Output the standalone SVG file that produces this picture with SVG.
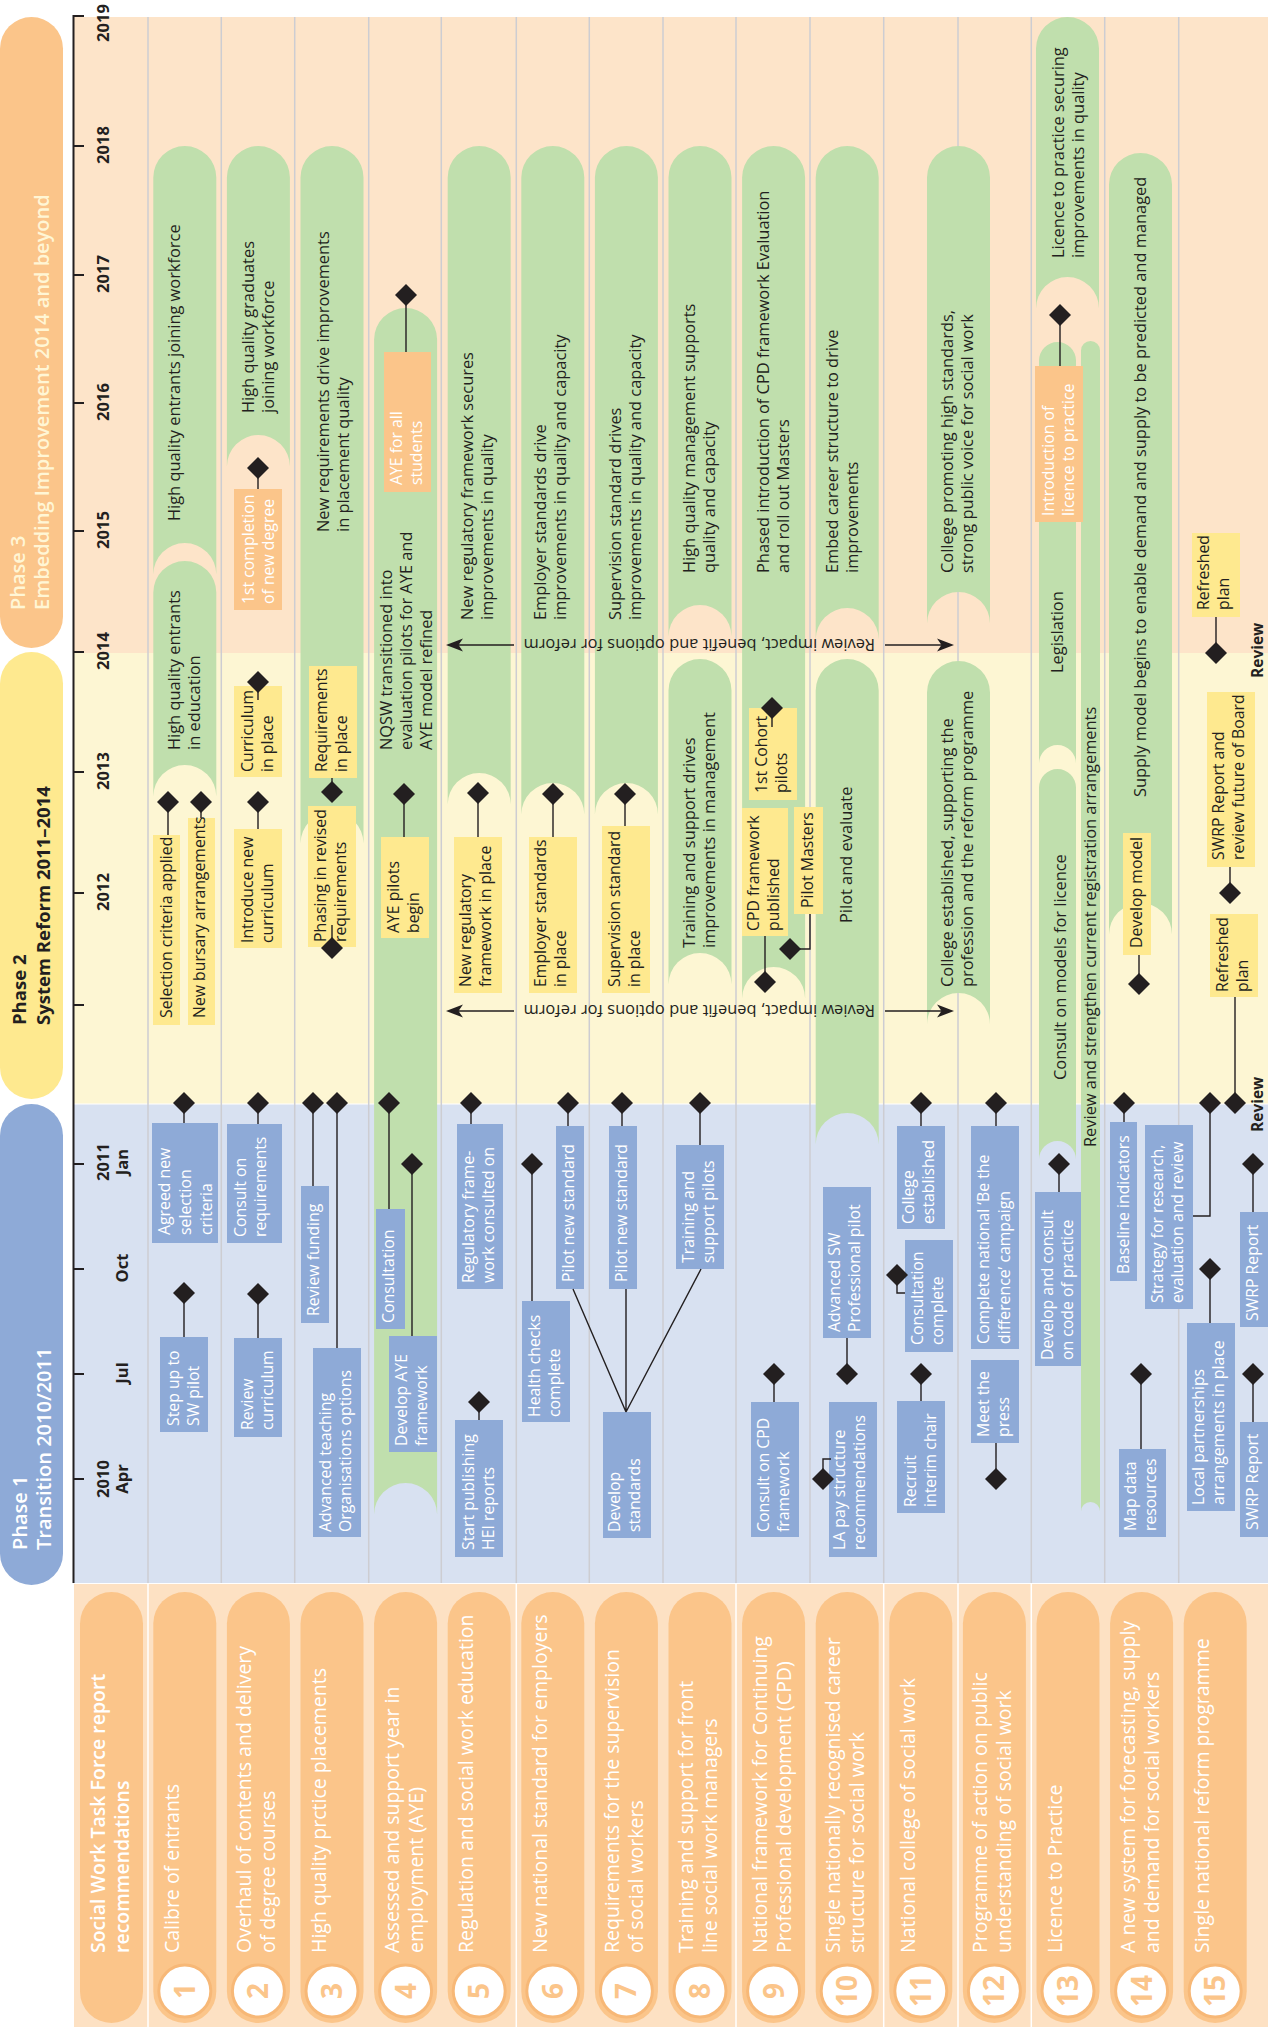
<svg xmlns="http://www.w3.org/2000/svg" width="1271" height="2029" viewBox="0 0 1271 2029">
<defs>
<style>
text{font-family:"Open Sans","Noto Sans","Liberation Sans",sans-serif}
.t{font-size:16.4px;fill:#231f20}
.s{font-size:15.8px;fill:#231f20}
.tw{font-size:15.8px;fill:#fff}
.b{font-size:19.5px;fill:#fff}
.yr{font-size:16.5px;font-weight:700;fill:#231f20;text-anchor:middle}
.ph{font-size:20px;font-weight:600}
.num{font-size:28px;font-weight:700;fill:#fbc58a;text-anchor:middle}
.rv{font-size:15.5px;font-weight:700;fill:#231f20}
.g{fill:#c0dfad}
.yb{fill:#fee98f}
.bb{fill:#8eaad7}
.ob{fill:#fbc58a}
.ln{stroke:#231f20;stroke-width:1.4;fill:none}
.sep{stroke:#cdcdd2;stroke-width:1.5;fill:none}
.ws{stroke:#fff;stroke-width:1.5;fill:none}
.nc{fill:#fff;stroke:#f7b877;stroke-width:3}
</style>
<path id="dm" d="M0,-11L11,0L0,11L-11,0Z"/>
<path id="ahl" d="M0,0L17,-6.5L12.5,0L17,6.5Z"/>
</defs>
<rect width="1271" height="2029" fill="#fff"/>
<g id="background">
<rect x="74" y="17" width="1194" height="636" fill="#fde4c9"/>
<rect x="74" y="653" width="1194" height="451" fill="#fdf6d3"/>
<rect x="74" y="1104" width="1194" height="479" fill="#d8e1f1"/>
<path d="M74,1104H1268" stroke="#fff" stroke-width="1"/>
<rect x="74" y="1584" width="1194" height="443" fill="#fde1c3"/>
<path class="sep" d="M148,17V1583M221.3,17V1583M294.7,17V1583M368.7,17V1583M441.3,17V1583M516.3,17V1583M589.3,17V1583M663,17V1583M736,17V1583M810,17V1583M883.7,17V1583M958,17V1583M1031.3,17V1583M1104.7,17V1583M1178.7,17V1583"/>
<path class="ws" d="M148,1584V2027M516.3,1584V2027M736,1584V2027M883.7,1584V2027M958,1584V2027M1031.3,1584V2027"/>
</g>
<g id="axis">
<path d="M84,16H73.5V1583" stroke="#231f20" stroke-width="2" fill="none"/>
<path d="M73.5,146H84M73.5,275H84M73.5,403H84M73.5,531H84M73.5,652H84M73.5,772H84M73.5,893H84M73.5,1005H84M73.5,1164H84M73.5,1269H84M73.5,1374H84M73.5,1479H84" stroke="#231f20" stroke-width="2"/>
<text class="yr" transform="translate(109,23) rotate(-90)">2019</text>
<text class="yr" transform="translate(109,145) rotate(-90)">2018</text>
<text class="yr" transform="translate(109,274) rotate(-90)">2017</text>
<text class="yr" transform="translate(109,402) rotate(-90)">2016</text>
<text class="yr" transform="translate(109,530) rotate(-90)">2015</text>
<text class="yr" transform="translate(109,651) rotate(-90)">2014</text>
<text class="yr" transform="translate(109,771) rotate(-90)">2013</text>
<text class="yr" transform="translate(109,892) rotate(-90)">2012</text>
<text class="yr" transform="translate(109,1162) rotate(-90)"><tspan x="0">2011</tspan><tspan x="0" y="19">Jan</tspan></text>
<text class="yr" transform="translate(128,1268) rotate(-90)">Oct</text>
<text class="yr" transform="translate(128,1373) rotate(-90)">Jul</text>
<text class="yr" transform="translate(109,1479) rotate(-90)"><tspan x="0">2010</tspan><tspan x="0" y="19">Apr</tspan></text>
</g>
<g id="phase3"><rect x="0" y="17" width="63" height="631" rx="31.5" class="ob"/><text class="ph" fill="#fff6d5" transform="translate(25,610) rotate(-90)"><tspan x="0">Phase 3</tspan><tspan x="0" y="24">Embedding Improvement 2014 and beyond</tspan></text></g>
<g id="phase2"><rect x="0" y="652" width="63" height="447" rx="31.5" class="yb"/><text font-size="18.5px" font-weight="700" fill="#231f20" transform="translate(26,1025) rotate(-90)"><tspan x="0">Phase 2</tspan><tspan x="0" y="24">System Reform 2011–2014</tspan></text></g>
<g id="phase1"><rect x="0" y="1104" width="63" height="481" rx="31.5" class="bb"/><text class="ph" fill="#fff" transform="translate(27,1550) rotate(-90)"><tspan x="0">Phase 1</tspan><tspan x="0" y="24">Transition 2010/2011</tspan></text></g>

<g id="outcome-1a"><path class="g" d="M153.3,177.5A31.5,31.5 0 0 1 216.3,177.5V574.5A31.5,31.5 0 0 0 153.3,574.5Z"/><text class="t" transform="translate(180,521) rotate(-90)">High quality entrants joining workforce</text></g>
<g id="outcome-1b"><path class="g" d="M153.3,592.5A31.5,31.5 0 0 1 216.3,592.5V796.5A31.5,31.5 0 0 0 153.3,796.5Z"/><text class="t" transform="translate(180,750) rotate(-90)"><tspan x="0">High quality entrants</tspan><tspan x="0" y="20">in education</tspan></text></g>
<g id="outcome-2a"><path class="g" d="M226.9,177.5A31.5,31.5 0 0 1 289.9,177.5V466.5A31.5,31.5 0 0 0 226.9,466.5Z"/><text class="t" transform="translate(254,413) rotate(-90)"><tspan x="0">High quality graduates</tspan><tspan x="0" y="20">joining workforce</tspan></text></g>
<g id="outcome-3a"><path class="g" d="M300.5,177.5A31.5,31.5 0 0 1 363.5,177.5V843.5A31.5,31.5 0 0 0 300.5,843.5Z"/><text class="t" transform="translate(329,532) rotate(-90)"><tspan x="0">New requirements drive improvements</tspan><tspan x="0" y="20">in placement quality</tspan></text></g>
<g id="outcome-4a"><path class="g" d="M374.1,339.5A31.5,31.5 0 0 1 437.1,339.5V1514.5A31.5,31.5 0 0 0 374.1,1514.5Z"/><text class="t" transform="translate(392,750) rotate(-90)"><tspan x="0">NQSW transitioned into</tspan><tspan x="0" y="20">evaluation pilots for AYE and</tspan><tspan x="0" y="40">AYE model refined</tspan></text></g>
<g id="outcome-5a"><path class="g" d="M447.7,177.5A31.5,31.5 0 0 1 510.7,177.5V804.5A31.5,31.5 0 0 0 447.7,804.5Z"/><text class="t" transform="translate(473,620) rotate(-90)"><tspan x="0">New regulatory framework secures</tspan><tspan x="0" y="20">improvements in quality</tspan></text></g>
<g id="outcome-6a"><path class="g" d="M521.3,177.5A31.5,31.5 0 0 1 584.3,177.5V814.5A31.5,31.5 0 0 0 521.3,814.5Z"/><text class="t" transform="translate(546,620) rotate(-90)"><tspan x="0">Employer standards drive</tspan><tspan x="0" y="20">improvements in quality and capacity</tspan></text></g>
<g id="outcome-7a"><path class="g" d="M594.9,177.5A31.5,31.5 0 0 1 657.9,177.5V814.5A31.5,31.5 0 0 0 594.9,814.5Z"/><text class="t" transform="translate(621,620) rotate(-90)"><tspan x="0">Supervision standard drives</tspan><tspan x="0" y="20">improvements in quality and capacity</tspan></text></g>
<g id="outcome-8a"><path class="g" d="M668.5,177.5A31.5,31.5 0 0 1 731.5,177.5V636.5A31.5,31.5 0 0 0 668.5,636.5Z"/><text class="t" transform="translate(695,573) rotate(-90)"><tspan x="0">High quality management supports</tspan><tspan x="0" y="20">quality and capacity</tspan></text></g>
<g id="outcome-8b"><path class="g" d="M668.5,690.5A31.5,31.5 0 0 1 731.5,690.5V984.5A31.5,31.5 0 0 0 668.5,984.5Z"/><text class="t" transform="translate(695,948) rotate(-90)"><tspan x="0">Training and support drives</tspan><tspan x="0" y="20">improvements in management</tspan></text></g>
<g id="outcome-9a"><path class="g" d="M742.1,177.5A31.5,31.5 0 0 1 805.1,177.5V998.5A31.5,31.5 0 0 0 742.1,998.5Z"/><text class="t" transform="translate(769,573) rotate(-90)"><tspan x="0">Phased introduction of CPD framework Evaluation</tspan><tspan x="0" y="20">and roll out Masters</tspan></text></g>
<g id="outcome-10a"><path class="g" d="M815.7,177.5A31.5,31.5 0 0 1 878.7,177.5V639.5A31.5,31.5 0 0 0 815.7,639.5Z"/><text class="t" transform="translate(838,573) rotate(-90)"><tspan x="0">Embed career structure to drive</tspan><tspan x="0" y="20">improvements</tspan></text></g>
<g id="outcome-10b"><path class="g" d="M815.7,690.5A31.5,31.5 0 0 1 878.7,690.5V1144.5A31.5,31.5 0 0 0 815.7,1144.5Z"/><text class="t" transform="translate(852,923) rotate(-90)">Pilot and evaluate</text></g>
<g id="outcome-11a"><path class="g" d="M927,177.5A31.5,31.5 0 0 1 990,177.5V623.5A31.5,31.5 0 0 0 927,623.5Z"/><text class="t" transform="translate(953,573) rotate(-90)"><tspan x="0">College promoting high standards,</tspan><tspan x="0" y="20">strong public voice for social work</tspan></text></g>
<g id="outcome-11b"><path class="g" d="M927,692.5A31.5,31.5 0 0 1 990,692.5V1024.5A31.5,31.5 0 0 0 927,1024.5Z"/><text class="t" transform="translate(953,987) rotate(-90)"><tspan x="0">College established, supporting the</tspan><tspan x="0" y="20">profession and the reform programme</tspan></text></g>
<g id="outcome-13a"><path class="g" d="M1036,48.5A31.5,31.5 0 0 1 1099,48.5V308.5A31.5,31.5 0 0 0 1036,308.5Z"/><text class="t" transform="translate(1064,258) rotate(-90)"><tspan x="0">Licence to practice securing</tspan><tspan x="0" y="20">improvements in quality</tspan></text></g>
<g id="outcome-13-legislation"><path class="g" d="M1039,360.5A18.5,18.5 0 0 1 1076,360.5V763.5A18.5,18.5 0 0 0 1039,763.5Z"/><text class="t" transform="translate(1063,673) rotate(-90)">Legislation</text></g>
<g id="outcome-13-consult"><path class="g" d="M1039,787.5A18.5,18.5 0 0 1 1076,787.5V1159.5A18.5,18.5 0 0 0 1039,1159.5Z"/><text class="t" transform="translate(1066,1080) rotate(-90)">Consult on models for licence</text></g>
<g id="outcome-13-registration"><path class="g" d="M1081,350.5A9.5,9.5 0 0 1 1100,350.5V1511.5A9.5,9.5 0 0 0 1081,1511.5Z"/><text class="t" transform="translate(1096,1147) rotate(-90)">Review and strengthen current registration arrangements</text></g>
<g id="outcome-14a"><path class="g" d="M1109,184.5A31.5,31.5 0 0 1 1172,184.5V934.5A31.5,31.5 0 0 0 1109,934.5Z"/><text class="t" transform="translate(1146,797) rotate(-90)">Supply model begins to enable demand and supply to be predicted and managed</text></g>

<g id="m-1st-completion"><rect x="234" y="489" width="48" height="121" class="ob"/><text class="tw" transform="translate(254,604) rotate(-90)"><tspan x="0">1st completion</tspan><tspan x="0" y="20">of new degree</tspan></text></g>
<g id="m-aye-all"><rect x="384" y="352" width="47" height="140" class="ob"/><text class="tw" transform="translate(402,485) rotate(-90)"><tspan x="0">AYE for all</tspan><tspan x="0" y="20">students</tspan></text></g>
<g id="m-intro-licence"><rect x="1035" y="366" width="48" height="156" class="ob"/><text class="tw" transform="translate(1054,516) rotate(-90)"><tspan x="0">Introduction of</tspan><tspan x="0" y="20">licence to practice</tspan></text></g>

<g id="m-selection-applied"><rect x="153" y="835" width="27" height="190" class="yb"/><text class="s" transform="translate(172,1018) rotate(-90)">Selection criteria applied</text></g>
<g id="m-bursary"><rect x="188" y="818" width="27" height="207" class="yb"/><text class="s" transform="translate(205,1018) rotate(-90)">New bursary arrangements</text></g>
<g id="m-curriculum-in-place"><rect x="234" y="686" width="48" height="91" class="yb"/><text class="s" transform="translate(253,772) rotate(-90)"><tspan x="0">Curriculum</tspan><tspan x="0" y="20">in place</tspan></text></g>
<g id="m-introduce-curriculum"><rect x="234" y="829" width="48" height="119" class="yb"/><text class="s" transform="translate(253,943) rotate(-90)"><tspan x="0">Introduce new</tspan><tspan x="0" y="20">curriculum</tspan></text></g>
<g id="m-requirements-in-place"><rect x="309" y="666" width="48" height="112" class="yb"/><text class="s" transform="translate(327,772) rotate(-90)"><tspan x="0">Requirements</tspan><tspan x="0" y="20">in place</tspan></text></g>
<g id="m-phasing"><rect x="308" y="806" width="48" height="141" class="yb"/><text class="s" transform="translate(326,942) rotate(-90)"><tspan x="0">Phasing in revised</tspan><tspan x="0" y="20">requirements</tspan></text></g>
<g id="m-aye-pilots"><rect x="381" y="837" width="48" height="101" class="yb"/><text class="s" transform="translate(399,933) rotate(-90)"><tspan x="0">AYE pilots</tspan><tspan x="0" y="20">begin</tspan></text></g>
<g id="m-reg-in-place"><rect x="454" y="837" width="48" height="156" class="yb"/><text class="s" transform="translate(471,987) rotate(-90)"><tspan x="0">New regulatory</tspan><tspan x="0" y="20">framework in place</tspan></text></g>
<g id="m-employer-in-place"><rect x="529" y="837" width="48" height="156" class="yb"/><text class="s" transform="translate(546,987) rotate(-90)"><tspan x="0">Employer standards</tspan><tspan x="0" y="20">in place</tspan></text></g>
<g id="m-supervision-in-place"><rect x="602" y="826" width="48" height="167" class="yb"/><text class="s" transform="translate(620,987) rotate(-90)"><tspan x="0">Supervision standard</tspan><tspan x="0" y="20">in place</tspan></text></g>
<g id="m-cohort"><rect x="749" y="708" width="48" height="92" class="yb"/><text class="s" transform="translate(767,793) rotate(-90)"><tspan x="0">1st Cohort</tspan><tspan x="0" y="20">pilots</tspan></text></g>
<g id="m-cpd-published"><rect x="742" y="808" width="46" height="128" class="yb"/><text class="s" transform="translate(759,931) rotate(-90)"><tspan x="0">CPD framework</tspan><tspan x="0" y="20">published</tspan></text></g>
<g id="m-pilot-masters"><rect x="794" y="807" width="29" height="107" class="yb"/><text class="s" transform="translate(813,908) rotate(-90)">Pilot Masters</text></g>
<g id="m-develop-model"><rect x="1123" y="833" width="28" height="122" class="yb"/><text class="s" transform="translate(1142,948) rotate(-90)">Develop model</text></g>
<g id="m-refreshed-1"><rect x="1192" y="533" width="48" height="84" class="yb"/><text class="s" transform="translate(1209,610) rotate(-90)"><tspan x="0">Refreshed</tspan><tspan x="0" y="20">plan</tspan></text></g>
<g id="m-swrp-board"><rect x="1207" y="692" width="48" height="175" class="yb"/><text class="s" transform="translate(1224,860) rotate(-90)"><tspan x="0">SWRP Report and</tspan><tspan x="0" y="20">review future of Board</tspan></text></g>
<g id="m-refreshed-2"><rect x="1210" y="914" width="48" height="83" class="yb"/><text class="s" transform="translate(1228,992) rotate(-90)"><tspan x="0">Refreshed</tspan><tspan x="0" y="20">plan</tspan></text></g>

<g id="a-agreed-criteria"><rect x="152" y="1123" width="66" height="120" class="bb"/><text class="tw" transform="translate(170,1235) rotate(-90)"><tspan x="0">Agreed new</tspan><tspan x="0" y="21">selection</tspan><tspan x="0" y="42">criteria</tspan></text></g>
<g id="a-step-up"><rect x="160" y="1337" width="48" height="95" class="bb"/><text class="tw" transform="translate(179,1426) rotate(-90)"><tspan x="0">Step up to</tspan><tspan x="0" y="20">SW pilot</tspan></text></g>
<g id="a-consult-req"><rect x="227" y="1124" width="55" height="119" class="bb"/><text class="tw" transform="translate(246,1237) rotate(-90)"><tspan x="0">Consult on</tspan><tspan x="0" y="20">requirements</tspan></text></g>
<g id="a-review-curriculum"><rect x="234" y="1338" width="48" height="99" class="bb"/><text class="tw" transform="translate(253,1430) rotate(-90)"><tspan x="0">Review</tspan><tspan x="0" y="20">curriculum</tspan></text></g>
<g id="a-review-funding"><rect x="301" y="1186" width="28" height="137" class="bb"/><text class="tw" transform="translate(319,1316) rotate(-90)">Review funding</text></g>
<g id="a-advanced-teaching"><rect x="313" y="1348" width="48" height="189" class="bb"/><text class="tw" transform="translate(331,1532) rotate(-90)"><tspan x="0">Advanced teaching</tspan><tspan x="0" y="20">Organisations options</tspan></text></g>
<g id="a-consultation"><rect x="376" y="1209" width="29" height="120" class="bb"/><text class="tw" transform="translate(394,1323) rotate(-90)">Consultation</text></g>
<g id="a-develop-aye"><rect x="389" y="1336" width="48" height="116" class="bb"/><text class="tw" transform="translate(407,1446) rotate(-90)"><tspan x="0">Develop AYE</tspan><tspan x="0" y="20">framework</tspan></text></g>
<g id="a-reg-consulted"><rect x="457" y="1124" width="46" height="165" class="bb"/><text class="tw" transform="translate(474,1283) rotate(-90)"><tspan x="0">Regulatory frame-</tspan><tspan x="0" y="20">work consulted on</tspan></text></g>
<g id="a-hei-reports"><rect x="455" y="1420" width="48" height="137" class="bb"/><text class="tw" transform="translate(474,1550) rotate(-90)"><tspan x="0">Start publishing</tspan><tspan x="0" y="20">HEI reports</tspan></text></g>
<g id="a-health-checks"><rect x="522" y="1301" width="48" height="121" class="bb"/><text class="tw" transform="translate(540,1417) rotate(-90)"><tspan x="0">Health checks</tspan><tspan x="0" y="20">complete</tspan></text></g>
<g id="a-pilot-standard-6"><rect x="556" y="1126" width="28" height="163" class="bb"/><text class="tw" transform="translate(574,1282) rotate(-90)">Pilot new standard</text></g>
<g id="a-pilot-standard-7"><rect x="609" y="1126" width="28" height="163" class="bb"/><text class="tw" transform="translate(627,1282) rotate(-90)">Pilot new standard</text></g>
<g id="a-develop-standards"><rect x="603" y="1412" width="48" height="126" class="bb"/><text class="tw" transform="translate(620,1532) rotate(-90)"><tspan x="0">Develop</tspan><tspan x="0" y="20">standards</tspan></text></g>
<g id="a-training-pilots"><rect x="676" y="1145" width="48" height="124" class="bb"/><text class="tw" transform="translate(694,1263) rotate(-90)"><tspan x="0">Training and</tspan><tspan x="0" y="20">support pilots</tspan></text></g>
<g id="a-consult-cpd"><rect x="751" y="1402" width="48" height="135" class="bb"/><text class="tw" transform="translate(769,1532) rotate(-90)"><tspan x="0">Consult on CPD</tspan><tspan x="0" y="20">framework</tspan></text></g>
<g id="a-advanced-sw"><rect x="823" y="1187" width="48" height="151" class="bb"/><text class="tw" transform="translate(840,1332) rotate(-90)"><tspan x="0">Advanced SW</tspan><tspan x="0" y="20">Professional pilot</tspan></text></g>
<g id="a-la-pay"><rect x="829" y="1402" width="48" height="155" class="bb"/><text class="tw" transform="translate(845,1550) rotate(-90)"><tspan x="0">LA pay structure</tspan><tspan x="0" y="20">recommendations</tspan></text></g>
<g id="a-college-established"><rect x="897" y="1126" width="48" height="103" class="bb"/><text class="tw" transform="translate(914,1224) rotate(-90)"><tspan x="0">College</tspan><tspan x="0" y="20">established</tspan></text></g>
<g id="a-consultation-complete"><rect x="905" y="1240" width="48" height="112" class="bb"/><text class="tw" transform="translate(923,1345) rotate(-90)"><tspan x="0">Consultation</tspan><tspan x="0" y="20">complete</tspan></text></g>
<g id="a-interim-chair"><rect x="897" y="1401" width="48" height="112" class="bb"/><text class="tw" transform="translate(916,1507) rotate(-90)"><tspan x="0">Recruit</tspan><tspan x="0" y="20">interim chair</tspan></text></g>
<g id="a-campaign"><rect x="971" y="1126" width="48" height="223" class="bb"/><text class="tw" transform="translate(989,1344) rotate(-90)"><tspan x="0">Complete national ‘Be the</tspan><tspan x="0" y="21">difference’ campaign</tspan></text></g>
<g id="a-meet-press"><rect x="971" y="1360" width="48" height="83" class="bb"/><text class="tw" transform="translate(989,1437) rotate(-90)"><tspan x="0">Meet the</tspan><tspan x="0" y="20">press</tspan></text></g>
<g id="a-code-of-practice"><rect x="1035" y="1192" width="46" height="174" class="bb"/><text class="tw" transform="translate(1053,1360) rotate(-90)"><tspan x="0">Develop and consult</tspan><tspan x="0" y="20">on code of practice</tspan></text></g>
<g id="a-baseline"><rect x="1110" y="1122" width="27" height="159" class="bb"/><text class="tw" transform="translate(1129,1274) rotate(-90)">Baseline indicators</text></g>
<g id="a-strategy"><rect x="1145" y="1125" width="48" height="184" class="bb"/><text class="tw" transform="translate(1163,1303) rotate(-90)"><tspan x="0">Strategy for research,</tspan><tspan x="0" y="20">evaluation and review</tspan></text></g>
<g id="a-map-data"><rect x="1119" y="1449" width="47" height="88" class="bb"/><text class="tw" transform="translate(1136,1531) rotate(-90)"><tspan x="0">Map data</tspan><tspan x="0" y="20">resources</tspan></text></g>
<g id="a-swrp-1"><rect x="1240" y="1212" width="28" height="115" class="bb"/><text class="tw" transform="translate(1258,1321) rotate(-90)">SWRP Report</text></g>
<g id="a-local-partnerships"><rect x="1187" y="1323" width="48" height="188" class="bb"/><text class="tw" transform="translate(1204,1505) rotate(-90)"><tspan x="0">Local partnerships</tspan><tspan x="0" y="20">arrangements in place</tspan></text></g>
<g id="a-swrp-2"><rect x="1240" y="1422" width="28" height="115" class="bb"/><text class="tw" transform="translate(1258,1530) rotate(-90)">SWRP Report</text></g>

<g id="review-labels">
<text class="t" transform="translate(875,639) rotate(180)">Review impact, benefit and options for reform</text>
<text class="t" transform="translate(875,1005) rotate(180)">Review impact, benefit and options for reform</text>
<text class="rv" transform="translate(1263,678) rotate(-90)">Review</text>
<text class="rv" transform="translate(1263,1132) rotate(-90)">Review</text>
</g>

<g id="recommendations">
<g id="rec-header"><rect x="80" y="1592" width="63" height="431" rx="31.5" class="ob"/><text class="b" font-weight="600" transform="translate(105,1953) rotate(-90)"><tspan x="0">Social Work Task Force report</tspan><tspan x="0" y="24">recommendations</tspan></text></g>
<g id="rec-1"><rect x="153.3" y="1592" width="63" height="431" rx="31.5" class="ob"/><circle cx="184.8" cy="1991" r="26" class="nc"/><text class="num" transform="translate(194.8,1991) rotate(-90)">1</text><text class="b" transform="translate(179,1953) rotate(-90)">Calibre of entrants</text></g>
<g id="rec-2"><rect x="226.9" y="1592" width="63" height="431" rx="31.5" class="ob"/><circle cx="258.4" cy="1991" r="26" class="nc"/><text class="num" transform="translate(268.4,1991) rotate(-90)">2</text><text class="b" transform="translate(251,1953) rotate(-90)"><tspan x="0">Overhaul of contents and delivery</tspan><tspan x="0" y="24">of degree courses</tspan></text></g>
<g id="rec-3"><rect x="300.5" y="1592" width="63" height="431" rx="31.5" class="ob"/><circle cx="332" cy="1991" r="26" class="nc"/><text class="num" transform="translate(342,1991) rotate(-90)">3</text><text class="b" transform="translate(326,1953) rotate(-90)">High quality prctice placements</text></g>
<g id="rec-4"><rect x="374.1" y="1592" width="63" height="431" rx="31.5" class="ob"/><circle cx="405.6" cy="1991" r="26" class="nc"/><text class="num" transform="translate(415.6,1991) rotate(-90)">4</text><text class="b" transform="translate(399,1953) rotate(-90)"><tspan x="0">Assessed and support year in</tspan><tspan x="0" y="24">employment (AYE)</tspan></text></g>
<g id="rec-5"><rect x="447.7" y="1592" width="63" height="431" rx="31.5" class="ob"/><circle cx="479.2" cy="1991" r="26" class="nc"/><text class="num" transform="translate(489.2,1991) rotate(-90)">5</text><text class="b" transform="translate(473,1953) rotate(-90)">Regulation and social work education</text></g>
<g id="rec-6"><rect x="521.3" y="1592" width="63" height="431" rx="31.5" class="ob"/><circle cx="552.8" cy="1991" r="26" class="nc"/><text class="num" transform="translate(562.8,1991) rotate(-90)">6</text><text class="b" transform="translate(547,1953) rotate(-90)">New national standard for employers</text></g>
<g id="rec-7"><rect x="594.9" y="1592" width="63" height="431" rx="31.5" class="ob"/><circle cx="626.4" cy="1991" r="26" class="nc"/><text class="num" transform="translate(636.4,1991) rotate(-90)">7</text><text class="b" transform="translate(619,1953) rotate(-90)"><tspan x="0">Requirements for the supervision</tspan><tspan x="0" y="24">of social workers</tspan></text></g>
<g id="rec-8"><rect x="668.5" y="1592" width="63" height="431" rx="31.5" class="ob"/><circle cx="700" cy="1991" r="26" class="nc"/><text class="num" transform="translate(710,1991) rotate(-90)">8</text><text class="b" transform="translate(693,1953) rotate(-90)"><tspan x="0">Training and support for front</tspan><tspan x="0" y="24">line social work managers</tspan></text></g>
<g id="rec-9"><rect x="742.1" y="1592" width="63" height="431" rx="31.5" class="ob"/><circle cx="773.6" cy="1991" r="26" class="nc"/><text class="num" transform="translate(783.6,1991) rotate(-90)">9</text><text class="b" transform="translate(767,1953) rotate(-90)"><tspan x="0">National framework for Continuing</tspan><tspan x="0" y="24">Professional development (CPD)</tspan></text></g>
<g id="rec-10"><rect x="815.7" y="1592" width="63" height="431" rx="31.5" class="ob"/><circle cx="847.2" cy="1991" r="26" class="nc"/><text class="num" transform="translate(857.2,1991) rotate(-90)">10</text><text class="b" transform="translate(840,1953) rotate(-90)"><tspan x="0">Single nationally recognised career</tspan><tspan x="0" y="24">structure for social work</tspan></text></g>
<g id="rec-11"><rect x="889.3" y="1592" width="63" height="431" rx="31.5" class="ob"/><circle cx="920.8" cy="1991" r="26" class="nc"/><text class="num" transform="translate(930.8,1991) rotate(-90)">11</text><text class="b" transform="translate(915,1953) rotate(-90)">National college of social work</text></g>
<g id="rec-12"><rect x="962.9" y="1592" width="63" height="431" rx="31.5" class="ob"/><circle cx="994.4" cy="1991" r="26" class="nc"/><text class="num" transform="translate(1004.4,1991) rotate(-90)">12</text><text class="b" transform="translate(987,1953) rotate(-90)"><tspan x="0">Programme of action on public</tspan><tspan x="0" y="24">understanding of social work</tspan></text></g>
<g id="rec-13"><rect x="1036.5" y="1592" width="63" height="431" rx="31.5" class="ob"/><circle cx="1068" cy="1991" r="26" class="nc"/><text class="num" transform="translate(1078,1991) rotate(-90)">13</text><text class="b" transform="translate(1062,1953) rotate(-90)">Licence to Practice</text></g>
<g id="rec-14"><rect x="1110.1" y="1592" width="63" height="431" rx="31.5" class="ob"/><circle cx="1141.6" cy="1991" r="26" class="nc"/><text class="num" transform="translate(1151.6,1991) rotate(-90)">14</text><text class="b" transform="translate(1135,1953) rotate(-90)"><tspan x="0">A new system for forecasting, supply</tspan><tspan x="0" y="24">and demand for social workers</tspan></text></g>
<g id="rec-15"><rect x="1183.7" y="1592" width="63" height="431" rx="31.5" class="ob"/><circle cx="1215.2" cy="1991" r="26" class="nc"/><text class="num" transform="translate(1225.2,1991) rotate(-90)">15</text><text class="b" transform="translate(1209,1953) rotate(-90)">Single national reform programme</text></g>
</g>

<g id="connectors">
<path class="ln" d="M184,1103V1123M184,1293V1337M168,802V835M201,802V818M258,468V489M258,682V700M258,802V829M258,1103V1124M258,1294V1338M332,792V778M332,948V925M313,1103V1186M337,1103V1348M406,295V352M404,794V837M389,1103V1209M412,1164V1336M478,793V837M471,1103V1124M479,1402V1420M553,794V837M532,1164V1301M568,1103V1126M625,794V826M622,1103V1126M573,1289L626,1412M626,1289V1412M701,1269L626,1412M700,1103V1145M772,708V727M765,982V936M790,949H810V914M774,1374V1402M847,1374V1338M823,1479V1459H831M921,1103V1126M897,1275V1293H905M921,1374V1401M996,1103V1126M996,1479V1443M1060,315V366M1059,1164V1192M1139,984V955M1124,1103V1122M1141,1374V1449M1210,1103V1216H1193M1216,653V617M1230,893V867M1235,1103V997M1253,1164V1212M1210,1269V1323M1253,1374V1422"/>
<path class="ln" d="M514,645H458M885,645H942M514,1011H458M885,1011H942"/>
<g fill="#231f20">
<use href="#ahl" x="446" y="645"/><use href="#ahl" x="446" y="1011"/>
<use href="#ahl" transform="translate(954,645) rotate(180)"/><use href="#ahl" transform="translate(954,1011) rotate(180)"/>
<use href="#dm" x="184" y="1103"/><use href="#dm" x="184" y="1293"/><use href="#dm" x="168" y="802"/><use href="#dm" x="201" y="802"/>
<use href="#dm" x="258" y="468"/><use href="#dm" x="258" y="682"/><use href="#dm" x="258" y="802"/><use href="#dm" x="258" y="1103"/><use href="#dm" x="258" y="1294"/>
<use href="#dm" x="332" y="792"/><use href="#dm" x="332" y="948"/><use href="#dm" x="313" y="1103"/><use href="#dm" x="337" y="1103"/>
<use href="#dm" x="406" y="295"/><use href="#dm" x="404" y="794"/><use href="#dm" x="389" y="1103"/><use href="#dm" x="412" y="1164"/>
<use href="#dm" x="478" y="793"/><use href="#dm" x="471" y="1103"/><use href="#dm" x="479" y="1402"/>
<use href="#dm" x="553" y="794"/><use href="#dm" x="532" y="1164"/><use href="#dm" x="568" y="1103"/>
<use href="#dm" x="625" y="794"/><use href="#dm" x="622" y="1103"/><use href="#dm" x="700" y="1103"/>
<use href="#dm" x="772" y="708"/><use href="#dm" x="765" y="982"/><use href="#dm" x="790" y="949"/><use href="#dm" x="774" y="1374"/>
<use href="#dm" x="847" y="1374"/><use href="#dm" x="823" y="1479"/>
<use href="#dm" x="921" y="1103"/><use href="#dm" x="897" y="1275"/><use href="#dm" x="921" y="1374"/>
<use href="#dm" x="996" y="1103"/><use href="#dm" x="996" y="1479"/>
<use href="#dm" x="1060" y="315"/><use href="#dm" x="1059" y="1164"/>
<use href="#dm" x="1139" y="984"/><use href="#dm" x="1124" y="1103"/><use href="#dm" x="1141" y="1374"/>
<use href="#dm" x="1210" y="1103"/><use href="#dm" x="1216" y="653"/><use href="#dm" x="1230" y="893"/><use href="#dm" x="1235" y="1103"/><use href="#dm" x="1253" y="1164"/><use href="#dm" x="1210" y="1269"/><use href="#dm" x="1253" y="1374"/>
</g>
</g>
</svg>
